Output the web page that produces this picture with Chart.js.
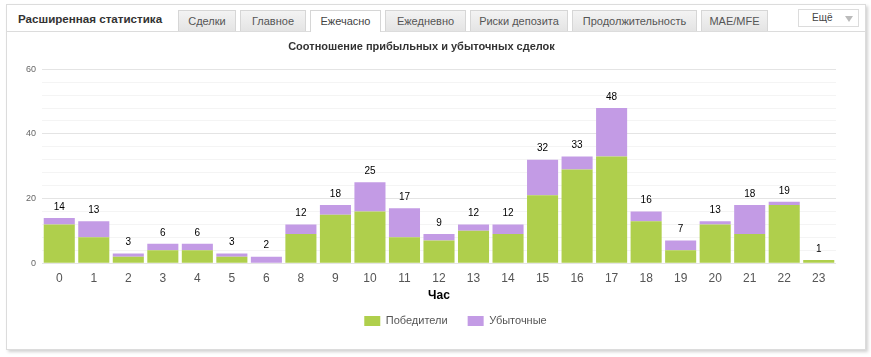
<!DOCTYPE html>
<html>
<head>
<meta charset="utf-8">
<script src="https://cdn.jsdelivr.net/npm/chart.js@4.4.1/dist/chart.umd.min.js"></script>
<style>
  html, body { margin:0; padding:0; background:#fff; width:871px; height:357px; overflow:hidden; font-family:"Liberation Sans", Arial, sans-serif; }
  #panel { position:absolute; left:6px; top:4px; width:858px; height:344px; border:1px solid #dcdcdc; background:#fff; box-shadow:2px 2px 3px rgba(0,0,0,0.18); }
  #header { position:absolute; left:0; top:0; width:858px; height:26px; border-bottom:1px solid #dcdcdc; }
  #ptitle { position:absolute; left:11px; top:7px; font-weight:bold; font-size:11.6px; color:#333; }
  .tab { position:absolute; top:5px; height:21px; box-sizing:border-box; border:1px solid #d6d6d6; border-bottom:none; background:linear-gradient(#f3f3f3,#e4e4e4); font-size:11px; color:#555; text-align:center; line-height:21px; }
  .tab.active { background:#fff; height:22px; color:#444; }
  #more { position:absolute; left:791px; top:4px; width:61px; height:18px; box-sizing:border-box; border:1px solid #dcdcdc; background:#fff; font-size:10px; color:#444; line-height:16px; padding-left:13px; }
  #more .arr { position:absolute; right:5px; top:6px; width:0; height:0; border-left:4px solid transparent; border-right:4px solid transparent; border-top:6px solid #bbb; }
  #wrap { position:absolute; left:7px; top:32px; width:857px; height:316px; }
</style>
</head>
<body>
<div id="panel">
  <div id="header">
    <div id="ptitle">Расширенная статистика</div>
    <div class="tab" style="left:171px;width:58px">Сделки</div>
    <div class="tab" style="left:233px;width:66px">Главное</div>
    <div class="tab active" style="left:303px;width:71px">Ежечасно</div>
    <div class="tab" style="left:378px;width:81px">Ежедневно</div>
    <div class="tab" style="left:463px;width:98px">Риски депозита</div>
    <div class="tab" style="left:565px;width:125px">Продолжительность</div>
    <div class="tab" style="left:694px;width:67px">MAE/MFE</div>
    <div id="more">Ещё<span class="arr"></span></div>
  </div>
</div>
<div id="wrap"><canvas id="c"></canvas></div>
<script>
const hours = ['0','1','2','3','4','5','6','8','9','10','11','12','13','14','15','16','17','18','19','20','21','22','23'];
const winners = [12,8,2,4,4,2,0,9,15,16,8,7,10,9,21,29,33,13,4,12,9,18,1];
const losers  = [2,5,1,2,2,1,2,3,3,9,9,2,2,3,11,4,15,3,3,1,9,1,0];
const yTicks = [0,20,40,60];
const chartTitle = 'Соотношение прибыльных и убыточных сделок';
const xTitle = 'Час';
const seriesNames = ['Победители','Убыточные'];

const totalsPlugin = {
  id:'totals',
  afterDatasetsDraw(chart){
    const ctx = chart.ctx;
    const last = chart.getDatasetMeta(chart.data.datasets.length-1);
    ctx.save();
    ctx.font = '10px "Liberation Sans", Arial, sans-serif';
    ctx.fillStyle = '#000';
    ctx.textAlign = 'center';
    ctx.textBaseline = 'middle';
    last.data.forEach((el,i)=>{
      const tot = winners[i] + losers[i];
      ctx.fillText(String(tot), el.x, el.y - 11);
    });
    ctx.restore();
  }
};

const legendShift = {
  id:'legendShift',
  afterLayout(chart){
    const lg = chart.legend;
    if (!lg) return;
    const dx = 34, dy = -7.5;
    lg.left += dx; lg.right += dx;
    lg.top += dy; lg.bottom += dy;
  }
};

new Chart(document.getElementById('c'), {
  type:'bar',
  data:{
    labels: hours,
    datasets:[
      {label:seriesNames[0], data:winners, backgroundColor:'#afcf4c', borderWidth:0, barPercentage:0.9, categoryPercentage:1.0},
      {label:seriesNames[1], data:losers, backgroundColor:'#c39be5', borderWidth:0, barPercentage:0.9, categoryPercentage:1.0}
    ]
  },
  options:{
    responsive:true, maintainAspectRatio:false, animation:false,
    devicePixelRatio:1,
    layout:{padding:{left:0,right:28,top:0,bottom:4}},
    plugins:{
      title:{display:true, text:chartTitle, color:'#333', font:{family:'"Liberation Sans", Arial, sans-serif', size:11, weight:'bold'}, padding:{top:8,bottom:16}},
      legend:{position:'bottom', labels:{boxWidth:16, boxHeight:10, color:'#555', padding:20, font:{family:'"Liberation Sans", Arial, sans-serif', size:11}}},
      tooltip:{enabled:false}
    },
    scales:{
      x:{
        stacked:true,
        grid:{display:false, drawTicks:false},
        border:{display:false},
        ticks:{color:'#555', padding:8, font:{family:'"Liberation Sans", Arial, sans-serif', size:12}},
        title:{display:true, text:xTitle, color:'#000', font:{family:'"Liberation Sans", Arial, sans-serif', size:12, weight:'bold'}, padding:{top:-5,bottom:0}}
      },
      y:{
        stacked:true, min:0, max:60,
        afterFit(s){ s.width = 35; },
        border:{display:false},
        grid:{drawTicks:false, color:(c)=> (yTicks.includes(c.tick.value) ? '#e4e4e4' : '#f4f4f4')},
        ticks:{stepSize:4, padding:6, color:'#666', autoSkip:false, font:{family:'"Liberation Sans", Arial, sans-serif', size:9},
          callback:(v)=> yTicks.includes(v) ? String(v) : ''}
      }
    }
  },
  plugins:[totalsPlugin, legendShift]
});
</script>
</body>
</html>
